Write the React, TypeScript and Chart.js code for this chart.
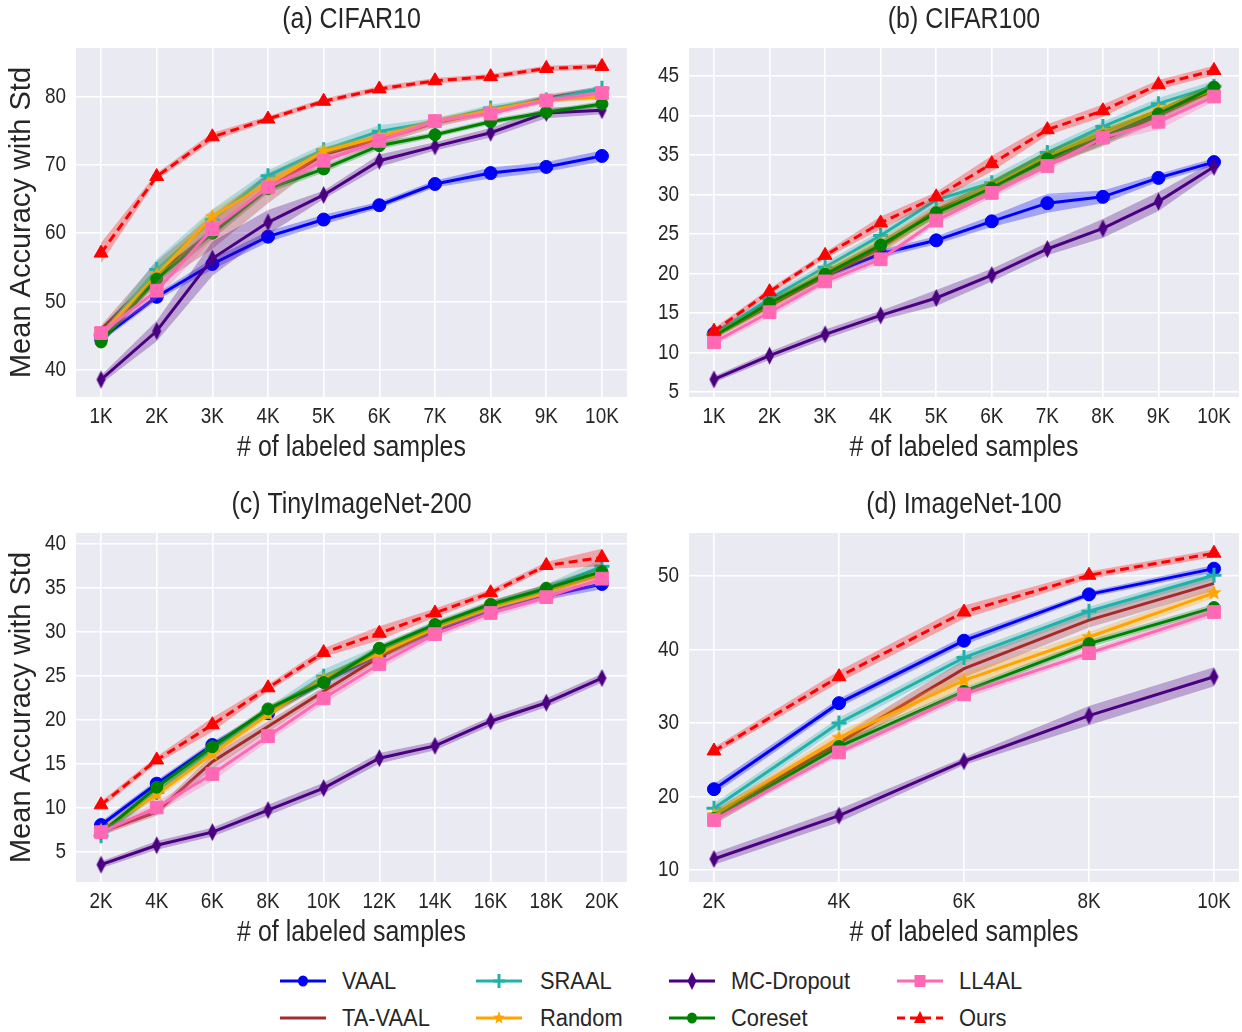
import React, { useEffect, useRef } from 'react';
import { Chart, registerables } from 'chart.js';

Chart.register(...registerables);

const FONT = "'Liberation Sans', Arial, sans-serif";
const SQUISH = 0.86; // horizontal text compression seen in the reference
const LEGEND_SQUISH = 0.95;
const TEXT = '#262626';
const BG = '#EAEAF2';

const SERIES = ['VAAL', 'TA-VAAL', 'SRAAL', 'Random', 'MC-Dropout', 'Coreset', 'LL4AL', 'Ours'];
const COLORS = ['#0000FF', '#A52A2A', '#20B2AA', '#FFA500', '#4B0082', '#008000', '#FF69B4', '#FF0000'];
const MARKERS = ['circle', 'none', 'plus', 'star', 'thinDiamond', 'circleSmall', 'square', 'triangle'];

// ---- (a) CIFAR10 ----
const cifar10X = [1, 2, 3, 4, 5, 6, 7, 8, 9, 10];
const cifar10YTicks = [40, 50, 60, 70, 80];
const cifar10Mean: Record<string, number[]> = {
  VAAL: [44.6, 50.7, 55.5, 59.5, 62.0, 64.1, 67.2, 68.8, 69.7, 71.3],
  'TA-VAAL': [45.9, 54.1, 60.2, 66.6, 71.5, 73.7, 76.1, 77.8, 79.8, 81.1],
  SRAAL: [45.1, 54.7, 62.0, 68.4, 72.2, 74.9, 76.3, 78.3, 79.5, 81.2],
  Random: [45.1, 53.9, 62.4, 67.3, 72.0, 74.1, 76.3, 78.0, 79.5, 79.9],
  'MC-Dropout': [38.6, 45.7, 56.3, 61.6, 65.6, 70.6, 72.7, 74.7, 77.6, 78.0],
  Coreset: [44.1, 53.3, 60.0, 66.5, 69.4, 72.8, 74.4, 76.3, 77.7, 78.9],
  LL4AL: [45.4, 51.6, 60.6, 66.7, 70.6, 73.5, 76.4, 77.5, 79.4, 80.5],
  Ours: [57.1, 68.3, 74.1, 76.7, 79.3, 81.1, 82.3, 82.9, 84.1, 84.4],
};
const cifar10Std: Record<string, number[]> = {
  VAAL: [0.5, 0.5, 0.8, 0.8, 0.7, 0.5, 0.5, 0.8, 0.7, 0.8],
  'TA-VAAL': [0.6, 1.8, 2.5, 2.2, 1.0, 0.8, 0.6, 0.5, 0.5, 0.4],
  SRAAL: [0.6, 1.5, 1.5, 0.8, 0.8, 0.9, 0.5, 0.5, 0.5, 0.4],
  Random: [0.5, 1.0, 1.0, 0.8, 0.6, 0.5, 0.5, 0.5, 0.4, 0.4],
  'MC-Dropout': [0.6, 1.5, 2.5, 1.8, 0.6, 0.9, 0.6, 0.7, 0.8, 0.6],
  Coreset: [0.5, 0.7, 0.8, 0.6, 0.5, 0.5, 0.4, 0.4, 0.4, 0.4],
  LL4AL: [0.5, 1.2, 1.5, 0.8, 0.6, 0.5, 0.5, 0.5, 0.4, 0.4],
  Ours: [1.5, 0.5, 0.6, 0.4, 0.4, 0.4, 0.4, 0.4, 0.4, 0.4],
};

// ---- (b) CIFAR100 ----
const cifar100X = [1, 2, 3, 4, 5, 6, 7, 8, 9, 10];
const cifar100YTicks = [5, 10, 15, 20, 25, 30, 35, 40, 45];
const cifar100Mean: Record<string, number[]> = {
  VAAL: [12.4, 16.3, 19.7, 22.5, 24.2, 26.6, 28.9, 29.7, 32.1, 34.1],
  'TA-VAAL': [12.1, 15.9, 19.7, 23.3, 28.0, 30.9, 34.3, 36.9, 40.0, 43.2],
  SRAAL: [12.3, 16.8, 20.8, 24.8, 29.3, 31.5, 35.3, 38.6, 41.5, 43.7],
  Random: [12.1, 16.1, 20.1, 23.7, 27.7, 31.1, 34.8, 37.8, 40.7, 43.3],
  'MC-Dropout': [6.6, 9.6, 12.3, 14.7, 16.9, 19.8, 23.1, 25.7, 29.1, 33.5],
  Coreset: [12.1, 16.2, 19.9, 23.6, 27.7, 30.8, 34.5, 37.3, 40.2, 43.6],
  LL4AL: [11.3, 15.1, 19.0, 21.8, 26.7, 30.2, 33.6, 37.2, 39.2, 42.4],
  Ours: [12.7, 17.7, 22.3, 26.4, 29.7, 33.9, 38.2, 40.6, 43.9, 45.7],
};
const cifar100Std: Record<string, number[]> = {
  VAAL: [0.4, 0.4, 0.4, 0.5, 0.5, 0.7, 1.2, 0.8, 0.5, 0.5],
  'TA-VAAL': [0.4, 0.5, 0.6, 0.8, 0.8, 0.8, 0.8, 0.8, 0.8, 0.8],
  SRAAL: [0.4, 0.5, 0.6, 0.6, 0.6, 0.8, 0.7, 0.6, 0.7, 0.7],
  Random: [0.4, 0.5, 0.7, 0.9, 0.7, 0.8, 0.7, 0.6, 0.6, 0.6],
  'MC-Dropout': [0.4, 0.5, 0.6, 0.6, 1.0, 0.8, 0.8, 1.2, 1.2, 0.7],
  Coreset: [0.4, 0.5, 0.5, 0.6, 0.6, 1.0, 1.0, 1.0, 0.6, 0.6],
  LL4AL: [0.4, 0.6, 0.5, 0.5, 0.5, 0.6, 0.6, 0.6, 1.0, 0.6],
  Ours: [0.4, 0.4, 0.4, 0.8, 0.6, 1.0, 0.7, 0.8, 0.6, 0.6],
};

// ---- (c) TinyImageNet-200 ----
const tinyX = [2, 4, 6, 8, 10, 12, 14, 16, 18, 20];
const tinyYTicks = [5, 10, 15, 20, 25, 30, 35, 40];
const tinyMean: Record<string, number[]> = {
  VAAL: [8.0, 12.7, 17.1, 20.7, 24.3, 27.3, 30.1, 32.3, 34.0, 35.4],
  'TA-VAAL': [7.2, 9.5, 15.2, 19.2, 23.2, 27.1, 30.3, 33.0, 34.9, 36.8],
  SRAAL: [6.8, 11.7, 16.5, 20.9, 24.9, 27.8, 30.6, 32.8, 34.8, 37.4],
  Random: [7.4, 11.5, 16.1, 20.6, 24.6, 27.5, 30.4, 32.7, 34.4, 36.5],
  'MC-Dropout': [3.5, 5.7, 7.2, 9.7, 12.2, 15.6, 17.0, 19.8, 21.9, 24.7],
  Coreset: [7.1, 12.3, 16.9, 21.2, 24.2, 28.1, 30.8, 33.1, 34.9, 36.8],
  LL4AL: [7.2, 10.0, 13.8, 18.1, 22.4, 26.3, 29.7, 32.1, 33.9, 36.0],
  Ours: [10.3, 15.4, 19.4, 23.6, 27.6, 29.8, 32.1, 34.4, 37.5, 38.4],
};
const tinyStd: Record<string, number[]> = {
  VAAL: [0.4, 0.4, 0.4, 0.4, 0.4, 0.4, 0.4, 0.4, 0.4, 0.6],
  'TA-VAAL': [0.4, 0.4, 0.8, 0.6, 0.5, 0.5, 0.5, 0.5, 0.5, 0.6],
  SRAAL: [0.4, 0.4, 0.5, 0.5, 0.8, 0.6, 0.5, 0.5, 0.6, 0.8],
  Random: [0.4, 0.5, 0.5, 0.5, 0.5, 0.5, 0.4, 0.4, 0.5, 0.6],
  'MC-Dropout': [0.4, 0.5, 0.5, 0.6, 0.6, 0.6, 0.5, 0.5, 0.5, 0.5],
  Coreset: [0.4, 0.4, 0.4, 0.4, 0.4, 0.4, 0.4, 0.4, 0.4, 0.5],
  LL4AL: [0.4, 0.6, 0.8, 0.6, 0.6, 0.6, 0.5, 0.5, 0.5, 0.6],
  Ours: [0.4, 0.4, 0.8, 0.4, 0.5, 0.8, 0.5, 0.4, 0.4, 1.0],
};

// ---- (d) ImageNet-100 ----
const imagenetX = [2, 4, 6, 8, 10];
const imagenetYTicks = [10, 20, 30, 40, 50];
const imagenetMean: Record<string, number[]> = {
  VAAL: [21.0, 32.7, 41.2, 47.5, 51.0],
  'TA-VAAL': [17.5, 27.3, 37.4, 44.0, 49.0],
  SRAAL: [18.4, 30.0, 38.9, 45.2, 50.1],
  Random: [17.5, 28.0, 35.8, 41.7, 47.7],
  'MC-Dropout': [11.5, 17.4, 24.8, 31.0, 36.3],
  Coreset: [17.0, 26.8, 34.3, 40.8, 45.7],
  LL4AL: [16.8, 26.0, 33.9, 39.5, 45.1],
  Ours: [26.2, 36.3, 45.1, 50.1, 53.1],
};
const imagenetStd: Record<string, number[]> = {
  VAAL: [0.7, 0.6, 0.6, 0.4, 0.5],
  'TA-VAAL': [0.7, 0.8, 1.2, 1.0, 1.0],
  SRAAL: [0.7, 0.7, 0.7, 0.6, 0.6],
  Random: [0.6, 0.8, 1.0, 0.7, 0.7],
  'MC-Dropout': [0.8, 0.9, 0.5, 1.3, 1.3],
  Coreset: [0.8, 0.6, 0.5, 0.5, 0.5],
  LL4AL: [0.5, 0.5, 0.6, 0.5, 0.6],
  Ours: [0.5, 0.8, 0.9, 0.5, 0.5],
};

type PanelCfg = {
  title: string;
  xs: number[];
  yTicks: number[];
  mean: Record<string, number[]>;
  std: Record<string, number[]>;
  xMin: number; xMax: number; yMin: number; yMax: number;
  left: number; top: number; width: number; height: number;
  yAxisWidth: number; padRight: number; showYTitle: boolean;
};

function hexA(hex: string, a: number) {
  const n = parseInt(hex.slice(1), 16);
  return `rgba(${(n >> 16) & 255},${(n >> 8) & 255},${n & 255},${a})`;
}

function makeStar(color: string, outer: number, inner: number) {
  const size = Math.ceil(outer * 2 + 2);
  const c = document.createElement('canvas');
  c.width = size; c.height = size;
  const ctx = c.getContext('2d')!;
  ctx.fillStyle = color;
  ctx.beginPath();
  for (let i = 0; i < 10; i++) {
    const r = i % 2 ? inner : outer;
    const a = -Math.PI / 2 + (i * Math.PI) / 5;
    ctx.lineTo(size / 2 + r * Math.cos(a), size / 2 + r * Math.sin(a));
  }
  ctx.closePath();
  ctx.fill();
  return c;
}

function makeThinDiamond(color: string, w: number, h: number) {
  const c = document.createElement('canvas');
  c.width = w + 2; c.height = h + 2;
  const ctx = c.getContext('2d')!;
  ctx.fillStyle = color;
  ctx.beginPath();
  ctx.moveTo(c.width / 2, 1);
  ctx.lineTo(c.width - 1, c.height / 2);
  ctx.lineTo(c.width / 2, c.height - 1);
  ctx.lineTo(1, c.height / 2);
  ctx.closePath();
  ctx.fill();
  return c;
}

function pointOpts(marker: string, color: string): any {
  switch (marker) {
    case 'circle': return { pointStyle: 'circle', pointRadius: 6.5, pointBorderWidth: 1 };
    case 'circleSmall': return { pointStyle: 'circle', pointRadius: 6, pointBorderWidth: 1 };
    case 'plus': return { pointStyle: 'cross', pointRadius: 7.5, pointBorderWidth: 3 };
    case 'star': return { pointStyle: makeStar(color, 8, 3.4), pointRadius: 7 };
    case 'thinDiamond': return { pointStyle: makeThinDiamond(color, 9, 18), pointRadius: 8 };
    case 'square': return { pointStyle: 'rect', pointRadius: 9, pointBorderWidth: 1 };
    case 'triangle': return { pointStyle: 'triangle', pointRadius: 8, pointBorderWidth: 1 };
    default: return { pointRadius: 0 };
  }
}

const bgPlugin = {
  id: 'plotBg',
  beforeDraw(chart: any) {
    const { ctx, chartArea } = chart;
    ctx.save();
    ctx.fillStyle = BG;
    ctx.fillRect(chartArea.left, chartArea.top, chartArea.right - chartArea.left, chartArea.bottom - chartArea.top);
    ctx.restore();
  },
};

// Compress horizontal text like the reference (rotated text is left as is).
function squishText(ctx: CanvasRenderingContext2D) {
  const anyCtx = ctx as any;
  if (anyCtx.__squished) return;
  anyCtx.__squished = true;
  const orig = ctx.fillText.bind(ctx);
  anyCtx.fillText = (text: string, x: number, y: number, maxWidth?: number) => {
    const t = ctx.getTransform();
    if (Math.abs(t.b) > 1e-6 || Math.abs(t.c) > 1e-6) {
      if (maxWidth !== undefined) orig(text, x, y, maxWidth); else orig(text, x, y);
      return;
    }
    ctx.save();
    ctx.translate(x, y);
    ctx.scale(SQUISH, 1);
    if (maxWidth !== undefined) orig(text, 0, 0, maxWidth / SQUISH); else orig(text, 0, 0);
    ctx.restore();
  };
}

function Panel({ cfg }: { cfg: PanelCfg }) {
  const ref = useRef<HTMLCanvasElement>(null);
  useEffect(() => {
    if (!ref.current) return;
    const ctx2d = ref.current.getContext('2d');
    if (ctx2d) squishText(ctx2d);
    const datasets: any[] = [];
    const n = SERIES.length;
    SERIES.forEach((name, i) => {
      const color = COLORS[i];
      const m = cfg.mean[name];
      const s = cfg.std[name];
      const base = datasets.length;
      datasets.push({
        label: name + ' upper',
        data: cfg.xs.map((x, k) => ({ x, y: m[k] + s[k] })),
        borderWidth: 0,
        borderColor: 'rgba(0,0,0,0)',
        pointRadius: 0,
        fill: base + 1,
        backgroundColor: hexA(color, 0.3),
        order: 3 * (n - i) + 2,
      });
      datasets.push({
        label: name + ' lower',
        data: cfg.xs.map((x, k) => ({ x, y: m[k] - s[k] })),
        borderWidth: 0,
        borderColor: 'rgba(0,0,0,0)',
        pointRadius: 0,
        fill: false,
        order: 3 * (n - i) + 1,
      });
      datasets.push({
        label: name,
        data: cfg.xs.map((x, k) => ({ x, y: m[k] })),
        borderColor: color,
        backgroundColor: color,
        pointBackgroundColor: color,
        pointBorderColor: color,
        borderWidth: 3,
        borderDash: name === 'Ours' ? [9, 5] : [],
        fill: false,
        tension: 0,
        order: 3 * (n - i),
        ...pointOpts(MARKERS[i], color),
      });
    });

    const chart = new Chart(ref.current, {
      type: 'line',
      data: { datasets },
      plugins: [bgPlugin],
      options: {
        animation: false,
        responsive: false,
        devicePixelRatio: 1,
        layout: { padding: { left: 0, right: cfg.padRight, top: 0, bottom: 0 } },
        plugins: {
          legend: { display: false },
          tooltip: { enabled: false },
          title: {
            display: true,
            fullSize: false,
            text: cfg.title,
            color: TEXT,
            font: { family: FONT, size: 29, weight: 'normal' },
            padding: { top: 2.9, bottom: 10.3 },
          },
        },
        scales: {
          x: {
            type: 'linear',
            min: cfg.xMin,
            max: cfg.xMax,
            grid: { color: '#FFFFFF', lineWidth: 1.6, drawTicks: false },
            border: { display: false },
            ticks: {
              color: TEXT,
              font: { family: FONT, size: 22 },
              padding: 7,
              autoSkip: false,
              maxRotation: 0,
              minRotation: 0,
              callback: (v: any) => `${v}K`,
            },
            afterBuildTicks: (s: any) => { s.ticks = cfg.xs.map((v) => ({ value: v })); },
            afterFit: (s: any) => { s.height = 73; s.paddingLeft = 0; s.paddingRight = 0; },
            title: {
              display: true,
              text: '# of labeled samples',
              color: TEXT,
              font: { family: FONT, size: 29 },
              padding: { top: 0, bottom: 4.6 },
            },
          },
          y: {
            type: 'linear',
            min: cfg.yMin,
            max: cfg.yMax,
            grid: { color: '#FFFFFF', lineWidth: 1.6, drawTicks: false },
            border: { display: false },
            ticks: {
              color: TEXT,
              font: { family: FONT, size: 22 },
              padding: 10,
            },
            afterBuildTicks: (s: any) => { s.ticks = cfg.yTicks.map((v) => ({ value: v })); },
            afterFit: (s: any) => { s.width = cfg.yAxisWidth; s.paddingTop = 0; s.paddingBottom = 0; },
            title: {
              display: cfg.showYTitle,
              text: 'Mean Accuracy with Std',
              color: TEXT,
              font: { family: FONT, size: 29 },
              padding: { top: 4.3, bottom: 0 },
            },
          },
        },
      } as any,
    });
    return () => chart.destroy();
  }, [cfg]);

  return (
    <canvas
      ref={ref}
      width={cfg.width}
      height={cfg.height}
      style={{ position: 'absolute', left: cfg.left, top: cfg.top, width: cfg.width, height: cfg.height }}
    />
  );
}

const PANELS: PanelCfg[] = [
  {
    title: '(a) CIFAR10', xs: cifar10X, yTicks: cifar10YTicks, mean: cifar10Mean, std: cifar10Std,
    xMin: 0.55, xMax: 10.45, yMin: 36.05, yMax: 87.09,
    left: 0, top: 0, width: 639, height: 470, yAxisWidth: 76, padRight: 12, showYTitle: true,
  },
  {
    title: '(b) CIFAR100', xs: cifar100X, yTicks: cifar100YTicks, mean: cifar100Mean, std: cifar100Std,
    xMin: 0.55, xMax: 10.45, yMin: 4.37, yMax: 48.54,
    left: 632, top: 0, width: 619, height: 470, yAxisWidth: 57, padRight: 12, showYTitle: false,
  },
  {
    title: '(c) TinyImageNet-200', xs: tinyX, yTicks: tinyYTicks, mean: tinyMean, std: tinyStd,
    xMin: 1.1, xMax: 20.9, yMin: 1.53, yMax: 41.19,
    left: 0, top: 485, width: 639, height: 470, yAxisWidth: 76, padRight: 12, showYTitle: true,
  },
  {
    title: '(d) ImageNet-100', xs: imagenetX, yTicks: imagenetYTicks, mean: imagenetMean, std: imagenetStd,
    xMin: 1.6, xMax: 10.4, yMin: 8.37, yMax: 55.85,
    left: 632, top: 485, width: 619, height: 470, yAxisWidth: 57, padRight: 12, showYTitle: false,
  },
];

function LegendIcon({ idx }: { idx: number }) {
  const color = COLORS[idx];
  const marker = MARKERS[idx];
  const cx = 23, cy = 10;
  let m: any = null;
  if (marker === 'circle' || marker === 'circleSmall') m = <ellipse cx={cx} cy={cy} rx={5} ry={5.5} fill={color} />;
  else if (marker === 'plus') m = (
    <g stroke={color} strokeWidth={3}>
      <line x1={cx - 6} y1={cy} x2={cx + 6} y2={cy} />
      <line x1={cx} y1={cy - 7} x2={cx} y2={cy + 7} />
    </g>
  );
  else if (marker === 'star') {
    const pts: string[] = [];
    for (let i = 0; i < 10; i++) {
      const r = i % 2 ? 3 : 7;
      const a = -Math.PI / 2 + (i * Math.PI) / 5;
      pts.push(`${cx + 0.86 * r * Math.cos(a)},${cy + r * Math.sin(a)}`);
    }
    m = <polygon points={pts.join(' ')} fill={color} />;
  } else if (marker === 'thinDiamond') m = <polygon points={`${cx},${cy - 9} ${cx + 4.5},${cy} ${cx},${cy + 9} ${cx - 4.5},${cy}`} fill={color} />;
  else if (marker === 'square') m = <rect x={cx - 5.5} y={cy - 6} width={11} height={12} fill={color} />;
  else if (marker === 'triangle') m = <polygon points={`${cx},${cy - 7} ${cx + 6},${cy + 5} ${cx - 6},${cy + 5}`} fill={color} />;
  return (
    <svg width={46} height={20} style={{ display: 'block' }}>
      <line x1={0} y1={cy} x2={46} y2={cy} stroke={color} strokeWidth={3}
        strokeDasharray={SERIES[idx] === 'Ours' ? '8 5' : undefined} />
      {m}
    </svg>
  );
}

const LEGEND_ICON_X = [280, 476, 669, 897];
const LEGEND_TEXT_X = [342, 540, 731, 959];
const LEGEND_ROW_Y = [981, 1018];

function Legend() {
  return (
    <>
      {SERIES.map((name, i) => {
        const col = Math.floor(i / 2);
        const row = i % 2;
        const y = LEGEND_ROW_Y[row];
        return (
          <React.Fragment key={name}>
            <div style={{ position: 'absolute', left: LEGEND_ICON_X[col], top: y - 10 }}>
              <LegendIcon idx={i} />
            </div>
            <div style={{
              position: 'absolute', left: LEGEND_TEXT_X[col], top: y - 16, height: 32, lineHeight: '32px',
              fontFamily: FONT, fontSize: 23, color: TEXT, whiteSpace: 'nowrap',
              transform: `scaleX(${LEGEND_SQUISH})`, transformOrigin: 'left center',
            }}>{name}</div>
          </React.Fragment>
        );
      })}
    </>
  );
}

export default function App() {
  return (
    <div style={{ position: 'absolute', left: 0, top: 0, width: 1242, height: 1032, background: '#FFFFFF', overflow: 'hidden' }}>
      {PANELS.map((p) => <Panel key={p.title} cfg={p} />)}
      <Legend />
    </div>
  );
}
